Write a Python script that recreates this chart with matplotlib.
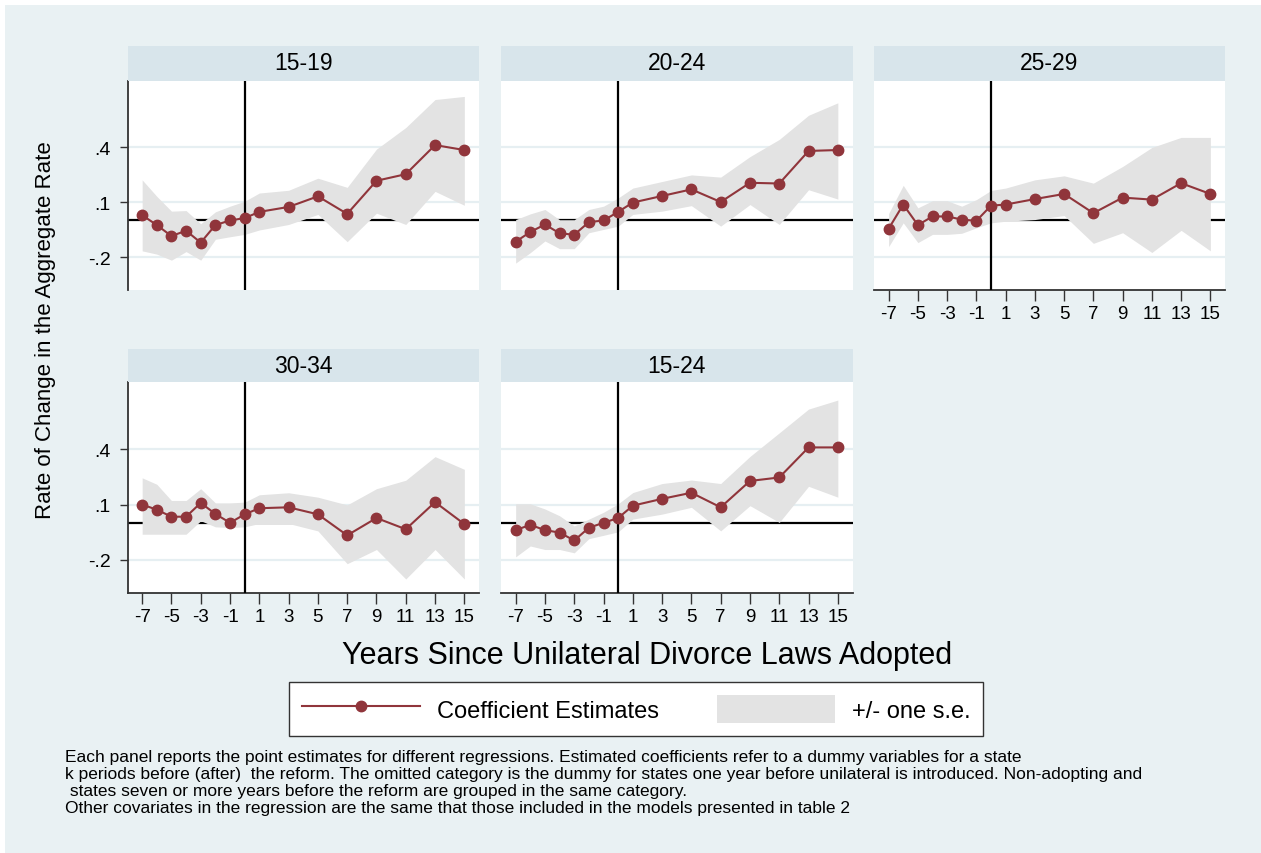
import matplotlib
matplotlib.use("Agg")
import matplotlib.pyplot as plt
from matplotlib.lines import Line2D
from matplotlib.patches import Patch, Rectangle

plt.rcParams['font.family'] = ['Liberation Sans', 'DejaVu Sans']

# event-time dummies (years since reform)
years = [-7, -6, -5, -4, -3, -2, -1, 0, 1, 3, 5, 7, 9, 11, 13, 15]
xtick_years = [-7, -5, -3, -1, 1, 3, 5, 7, 9, 11, 13, 15]
ytick_vals = [-0.2, 0.1, 0.4]

groups = ["15-19", "20-24", "25-29", "30-34", "15-24"]

coef_1519 = [0.029, -0.025, -0.085, -0.056, -0.121, -0.025, 0.000, 0.013, 0.047, 0.074, 0.132, 0.036, 0.217, 0.253, 0.412, 0.385]
upper_1519 = [0.222, 0.132, 0.051, 0.054, -0.018, 0.047, 0.078, 0.105, 0.150, 0.165, 0.231, 0.181, 0.390, 0.508, 0.661, 0.678]
lower_1519 = [-0.166, -0.184, -0.217, -0.170, -0.217, -0.103, -0.089, -0.076, -0.052, -0.022, 0.033, -0.116, 0.040, -0.022, 0.159, 0.083]

coef_2024 = [-0.116, -0.063, -0.022, -0.070, -0.078, -0.009, 0.000, 0.047, 0.098, 0.134, 0.170, 0.101, 0.206, 0.202, 0.380, 0.385]
upper_2024 = [0.005, 0.036, 0.060, 0.004, 0.004, 0.060, 0.078, 0.123, 0.177, 0.213, 0.249, 0.237, 0.349, 0.443, 0.575, 0.643]
lower_2024 = [-0.233, -0.176, -0.112, -0.154, -0.154, -0.067, -0.049, -0.031, 0.033, 0.051, 0.081, -0.031, 0.087, -0.022, 0.168, 0.117]

coef_2529 = [-0.045, 0.087, -0.025, 0.022, 0.022, 0.005, -0.002, 0.081, 0.087, 0.117, 0.145, 0.040, 0.125, 0.114, 0.204, 0.145]
upper_2529 = [0.038, 0.192, 0.069, 0.108, 0.108, 0.078, 0.114, 0.164, 0.177, 0.222, 0.244, 0.204, 0.295, 0.399, 0.454, 0.454]
lower_2529 = [-0.143, -0.013, -0.121, -0.076, -0.076, -0.070, -0.040, -0.013, -0.004, 0.005, 0.027, -0.125, -0.067, -0.175, -0.054, -0.166]

coef_3034 = [0.100, 0.072, 0.034, 0.034, 0.109, 0.049, 0.001, 0.047, 0.080, 0.085, 0.047, -0.067, 0.027, -0.034, 0.113, -0.006]
upper_3034 = [0.245, 0.210, 0.122, 0.122, 0.186, 0.109, 0.109, 0.113, 0.153, 0.164, 0.140, 0.098, 0.186, 0.232, 0.360, 0.291]
lower_3034 = [-0.061, -0.061, -0.061, -0.061, 0.012, -0.021, -0.025, -0.021, -0.003, -0.003, -0.043, -0.221, -0.144, -0.304, -0.144, -0.304]

coef_1524 = [-0.039, -0.010, -0.039, -0.052, -0.095, -0.026, 0.001, 0.027, 0.094, 0.131, 0.164, 0.085, 0.228, 0.247, 0.410, 0.410]
upper_1524 = [0.104, 0.104, 0.076, 0.039, -0.016, 0.021, 0.058, 0.104, 0.165, 0.214, 0.233, 0.214, 0.361, 0.489, 0.618, 0.667]
lower_1524 = [-0.184, -0.125, -0.144, -0.144, -0.162, -0.085, -0.067, -0.048, 0.021, 0.048, 0.085, -0.043, 0.094, 0.003, 0.199, 0.140]

coefs = [coef_1519, coef_2024, coef_2529, coef_3034, coef_1524]
uppers = [upper_1519, upper_2024, upper_2529, upper_3034, upper_1524]
lowers = [lower_1519, lower_2024, lower_2529, lower_3034, lower_1524]

footnote = [
    "Each panel reports the point estimates for different regressions. Estimated coefficients refer to a dummy variables for a state",
    "k periods before (after)  the reform. The omitted category is the dummy for states one year before unilateral is introduced. Non-adopting and",
    " states seven or more years before the reform are grouped in the same category.",
    "Other covariates in the regression are the same that those included in the models presented in table 2",
]

# stata s2color-ish palette
BG = "#E9F1F3"
STRIP = "#D8E5EB"
GRID = "#E6EFF2"
BAND = "#E3E3E3"
LINE = "#90353B"

W, H = 1261, 854


def px_box(x0, y0, x1, y1):
    # pixel box (top-left origin) -> figure fraction rect
    return [x0 / W, 1 - y1 / H, (x1 - x0) / W, (y1 - y0) / H]


def fmt_tick(v):
    s = f"{v:.1f}"
    return s.replace("0.", ".")


fig = plt.figure(figsize=(W / 100, H / 100), dpi=100, facecolor="white")
fig.patches.append(Rectangle((5 / W, 0), 1, 1 - 6 / H, transform=fig.transFigure,
                             facecolor=BG, edgecolor="none", zorder=-10))

col_x = [(127.5, 479), (501, 852.5), (874, 1225)]
row_y = [(81.5, 291), (383, 594)]
strip_y = [(46.5, 81.5), (349.5, 383)]
positions = [(0, 0), (0, 1), (0, 2), (1, 0), (1, 1)]
has_xlabels = [False, False, True, True, True]

for i, (r, c) in enumerate(positions):
    x0, x1 = col_x[c]
    y0, y1 = row_y[r]
    ax = fig.add_axes(px_box(x0, y0, x1, y1))
    ax.set_facecolor("white")

    ax.fill_between(years, lowers[i], uppers[i], color=BAND, lw=0, zorder=2)
    ax.axhline(0, color="black", lw=1.6, zorder=1)
    ax.axvline(0, color="black", lw=1.6, zorder=3)
    ax.plot(years, coefs[i], "-o", color=LINE, lw=1.5, ms=7.5, zorder=4)

    ax.set_xlim(-8, 16)
    ax.set_ylim(-0.38, 0.765)
    ax.set_yticks(ytick_vals)
    ax.set_yticklabels([fmt_tick(v) for v in ytick_vals])
    ax.set_xticks(xtick_years)
    ax.set_xticklabels([str(v) for v in xtick_years])
    ax.yaxis.grid(True, color=GRID, lw=1.6, zorder=0)
    ax.set_axisbelow(True)

    for sp in ax.spines.values():
        sp.set_visible(False)

    if c == 0:
        ax.spines["left"].set_visible(True)
        ax.spines["left"].set_color("#333333")
        ax.spines["left"].set_linewidth(1.3)
        ax.tick_params(axis="y", length=6, width=1, color="#333333", labelsize=14, pad=6)
    else:
        ax.tick_params(axis="y", length=0, labelleft=False)

    if has_xlabels[i]:
        ax.spines["bottom"].set_visible(True)
        ax.spines["bottom"].set_color("#333333")
        ax.spines["bottom"].set_linewidth(1.3)
        ax.tick_params(axis="x", length=8, width=1, color="#333333", labelsize=13.5, pad=3)
    else:
        ax.tick_params(axis="x", length=0, labelbottom=False)

    # title strip
    sy0, sy1 = strip_y[r]
    sax = fig.add_axes(px_box(x0, sy0, x1, sy1))
    sax.set_facecolor(STRIP)
    sax.set_xticks([])
    sax.set_yticks([])
    for sp in sax.spines.values():
        sp.set_visible(False)
    sax.text(0.5, 0.5, groups[i], ha="center", va="center", fontsize=16.5,
             transform=sax.transAxes)

fig.text(46 / W, 1 - 330 / H, "Rate of Change in the Aggregate Rate", rotation=90,
         ha="center", va="center", fontsize=16)
fig.text(647 / W, 1 - 656 / H, "Years Since Unilateral Divorce Laws Adopted",
         ha="center", va="center", fontsize=22)

handles = [Line2D([], [], color=LINE, lw=1.5, marker="o", ms=7.5),
           Patch(facecolor=BAND, edgecolor="none")]
leg = fig.legend(handles, ["Coefficient Estimates", "+/- one s.e."], ncol=2,
                 loc="center", bbox_to_anchor=(636 / W, 1 - 710 / H), fontsize=17,
                 frameon=True, fancybox=False, facecolor="white", edgecolor="#333333",
                 framealpha=1, handlelength=5.0, handleheight=1.4, columnspacing=2.45,
                 handletextpad=0.72, borderpad=0.55, numpoints=1)
leg.get_frame().set_linewidth(1)

for k, line in enumerate(footnote):
    fig.text(65 / W, 1 - (758 + 17 * k) / H, line, ha="left", va="center", fontsize=12.5)

fig.savefig("out.png", dpi=100, facecolor=fig.get_facecolor())
